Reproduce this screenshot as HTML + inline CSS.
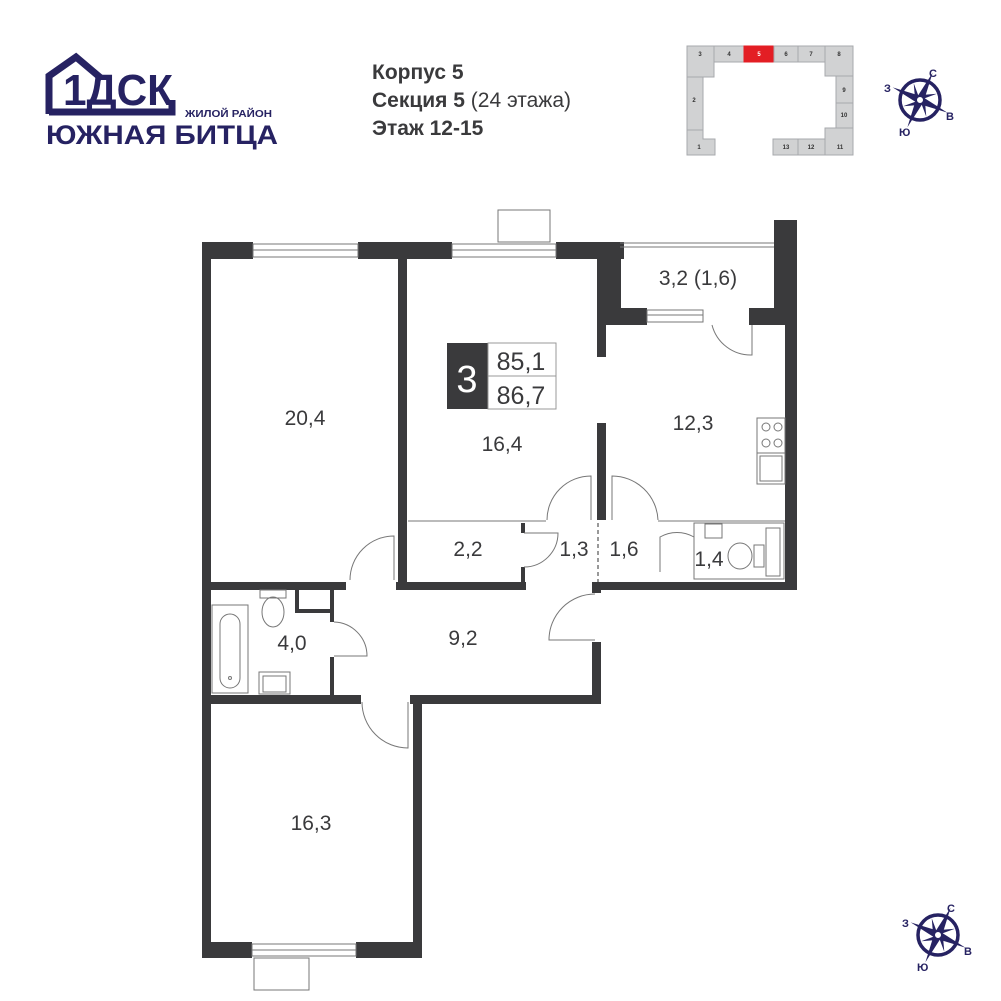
<!DOCTYPE html>
<html><head><meta charset="utf-8"><style>
html,body{margin:0;padding:0;background:#fff;}
svg{display:block;font-family:"Liberation Sans","Noto Sans CJK SC",sans-serif;}
</style></head><body>
<svg width="1001" height="1001" viewBox="0 0 1001 1001" xmlns="http://www.w3.org/2000/svg">
<rect width="1001" height="1001" fill="#fff"/>
<!-- Logo -->
<g fill="none" stroke="#262262" stroke-width="7" stroke-linejoin="miter">
<path d="M49,114 L49,76 L76,57 L102,79"/>
<path d="M49,112 L172,112 L172,100"/>
</g>
<text x="63" y="105" font-size="44" font-weight="bold" fill="#262262" textLength="110" lengthAdjust="spacingAndGlyphs">1ДСК</text>
<text x="185" y="117" font-size="10" font-weight="bold" fill="#262262" textLength="87" lengthAdjust="spacingAndGlyphs">ЖИЛОЙ РАЙОН</text>
<text x="46" y="144" font-size="27" font-weight="bold" fill="#262262" textLength="232" lengthAdjust="spacingAndGlyphs">ЮЖНАЯ БИТЦА</text>
<!-- Header -->
<g fill="#3a3a3c" font-size="21">
<text x="372" y="79" font-weight="bold">Корпус 5</text>
<text x="372" y="107"><tspan font-weight="bold">Секция 5</tspan> (24 этажа)</text>
<text x="372" y="135" font-weight="bold">Этаж 12-15</text>
</g>
<!-- Section map -->
<g fill="#d1d2d3" stroke="#a7a9ac" stroke-width="1">
<rect x="687" y="46" width="27" height="31"/>
<rect x="714" y="46" width="30" height="16"/>
<rect x="744" y="46" width="30" height="16" fill="#e31e24" stroke="#e31e24"/>
<rect x="774" y="46" width="24" height="16"/>
<rect x="798" y="46" width="27" height="16"/>
<rect x="825" y="46" width="28" height="30"/>
<rect x="687" y="77" width="16" height="53"/>
<path d="M687,130 L703,130 L703,139 L715,139 L715,155 L687,155 Z"/>
<rect x="836" y="76" width="17" height="27"/>
<rect x="836" y="103" width="17" height="25"/>
<rect x="825" y="128" width="28" height="27"/>
<rect x="798" y="139" width="27" height="16"/>
<rect x="773" y="139" width="25" height="16"/>
</g>
<g font-size="6" fill="#333" text-anchor="middle" font-weight="bold">
<text x="700" y="56">3</text><text x="729" y="56">4</text><text x="759" y="56" fill="#fff">5</text>
<text x="786" y="56">6</text><text x="811" y="56">7</text><text x="839" y="56">8</text>
<text x="694" y="102">2</text><text x="699" y="149">1</text><text x="844" y="92">9</text>
<text x="844" y="117">10</text><text x="840" y="149">11</text><text x="811" y="149">12</text><text x="786" y="149">13</text>
</g>
<!-- Compasses -->
<g id="cp" fill="#262262" stroke="#262262">
<circle cx="920" cy="100" r="20" fill="none" stroke-width="3.5"/>
<polygon stroke="none" points="936.9,93.7 924.7,98.2 926.3,116.9 921.8,104.7 903.1,106.3 915.3,101.8 913.7,83.1 918.2,95.3"/>
<polygon stroke="none" points="932.6,72.7 924.7,98.2 947.3,112.6 921.8,104.7 907.4,127.3 915.3,101.8 892.7,87.4 918.2,95.3"/>
<circle cx="920" cy="100" r="4" fill="#fff" stroke-width="2"/>
<g font-size="11" font-weight="bold" stroke="none"><text x="929" y="77">С</text><text x="884" y="92">З</text><text x="946" y="120">В</text><text x="899" y="136">Ю</text></g>
</g>
<use href="#cp" transform="translate(18,835)"/>
<!-- Plan walls -->
<g fill="#3a3a3c">
<rect x="202" y="242" width="51" height="17"/>
<rect x="358" y="242" width="94" height="17"/>
<rect x="556" y="242" width="68" height="17"/>
<rect x="597" y="242" width="24" height="83"/>
<rect x="597" y="308" width="50" height="17"/>
<rect x="597" y="325" width="9" height="32"/>
<rect x="597" y="423" width="9" height="97"/>
<rect x="749" y="308" width="48" height="17"/>
<rect x="774" y="220" width="23" height="105"/>
<rect x="785" y="320" width="12" height="270"/>
<rect x="202" y="242" width="9" height="716"/>
<rect x="398" y="259" width="9" height="331"/>
<rect x="211" y="582" width="135" height="8"/>
<rect x="396" y="582" width="130" height="8"/>
<rect x="521" y="523" width="4" height="10"/>
<rect x="521" y="567" width="4" height="15"/>
<rect x="597" y="582" width="200" height="8"/>
<rect x="592" y="582" width="9" height="11"/>
<rect x="592" y="642" width="9" height="62"/>
<rect x="211" y="695" width="150" height="9"/>
<rect x="410" y="695" width="191" height="9"/>
<rect x="413" y="695" width="9" height="263"/>
<rect x="202" y="942" width="50" height="16"/>
<rect x="356" y="942" width="66" height="16"/>
<rect x="330" y="590" width="4" height="32"/>
<rect x="330" y="657" width="4" height="38"/>
<rect x="295" y="590" width="4" height="23"/>
<rect x="295" y="609" width="35" height="4"/>
</g>
<!-- thin lines -->
<g fill="none" stroke="#777" stroke-width="1">
<rect x="253" y="244" width="105" height="13"/><line x1="253" y1="250" x2="358" y2="250"/>
<rect x="452" y="244" width="104" height="13"/><line x1="452" y1="250" x2="556" y2="250"/>
<rect x="498" y="210" width="52" height="32"/>
<line x1="620" y1="243" x2="774" y2="243"/><line x1="620" y1="247" x2="774" y2="247"/>
<rect x="647" y="310" width="56" height="12"/><line x1="647" y1="315" x2="703" y2="315"/>
<rect x="252" y="944" width="104" height="12"/><line x1="252" y1="950" x2="356" y2="950"/>
<rect x="254" y="958" width="55" height="32"/>
<line x1="408" y1="521" x2="546" y2="521"/><line x1="658" y1="521" x2="785" y2="521"/>
<line x1="598" y1="523" x2="598" y2="582" stroke-dasharray="4,3" stroke="#333"/>
<!-- doors -->
<path d="M394,580 L394,536 A44,44 0 0 0 350,580"/>
<path d="M591,520 L591,476 A44,44 0 0 0 547,520"/>
<path d="M612,520 L612,476 A46,46 0 0 1 658,520"/>
<path d="M524,533 L558,533 A34,34 0 0 1 524,567"/>
<path d="M660,572 L660,537 A34,34 0 0 1 694,537"/>
<path d="M752,325 L752,355 A40,40 0 0 1 712,325"/>
<path d="M595,640 L549,640 A46,46 0 0 1 595,594"/>
<path d="M334,656 L367,656 A34,34 0 0 0 334,622"/>
<path d="M408,702 L408,748 A46,46 0 0 1 362,702"/>
<!-- kitchen -->
<rect x="757" y="418" width="28" height="35"/>
<circle cx="766" cy="427" r="4"/><circle cx="778" cy="427" r="4"/><circle cx="766" cy="443" r="4"/><circle cx="778" cy="443" r="4"/>
<rect x="757" y="453" width="28" height="31"/><rect x="760" y="456" width="22" height="25"/>
<!-- wc 1.4 -->
<rect x="694" y="523" width="90" height="56"/>
<rect x="705" y="524" width="17" height="14"/>
<rect x="766" y="528" width="14" height="48"/>
<ellipse cx="740" cy="556" rx="12" ry="13"/><rect x="754" y="545" width="10" height="22"/>
<!-- bath 4.0 -->
<rect x="212" y="605" width="36" height="88"/><rect x="220" y="614" width="20" height="74" rx="10"/>
<circle cx="230" cy="678" r="1.5"/>
<rect x="260" y="590" width="26" height="8"/><ellipse cx="273" cy="612" rx="11" ry="15"/>
<rect x="259" y="672" width="31" height="22"/><rect x="263" y="676" width="23" height="16"/>
</g>
<!-- area badge -->
<rect x="447" y="343" width="41" height="66" fill="#3a3a3c"/>
<rect x="488" y="343" width="68" height="66" fill="none" stroke="#999" stroke-width="1"/>
<line x1="488" y1="376" x2="556" y2="376" stroke="#999"/>
<text x="467" y="392" font-size="38" fill="#fff" text-anchor="middle">3</text>
<g font-size="25" fill="#3a3a3c" text-anchor="middle">
<text x="521" y="370">85,1</text><text x="521" y="404">86,7</text>
</g>
<!-- room labels -->
<g font-size="21" fill="#3a3a3c" text-anchor="middle">
<text x="305" y="425">20,4</text>
<text x="502" y="451">16,4</text>
<text x="698" y="285">3,2 (1,6)</text>
<text x="693" y="430">12,3</text>
<text x="468" y="556">2,2</text>
<text x="574" y="556">1,3</text>
<text x="624" y="556">1,6</text>
<text x="709" y="566">1,4</text>
<text x="292" y="650">4,0</text>
<text x="463" y="645">9,2</text>
<text x="311" y="830">16,3</text>
</g>
</svg>
</body></html>
